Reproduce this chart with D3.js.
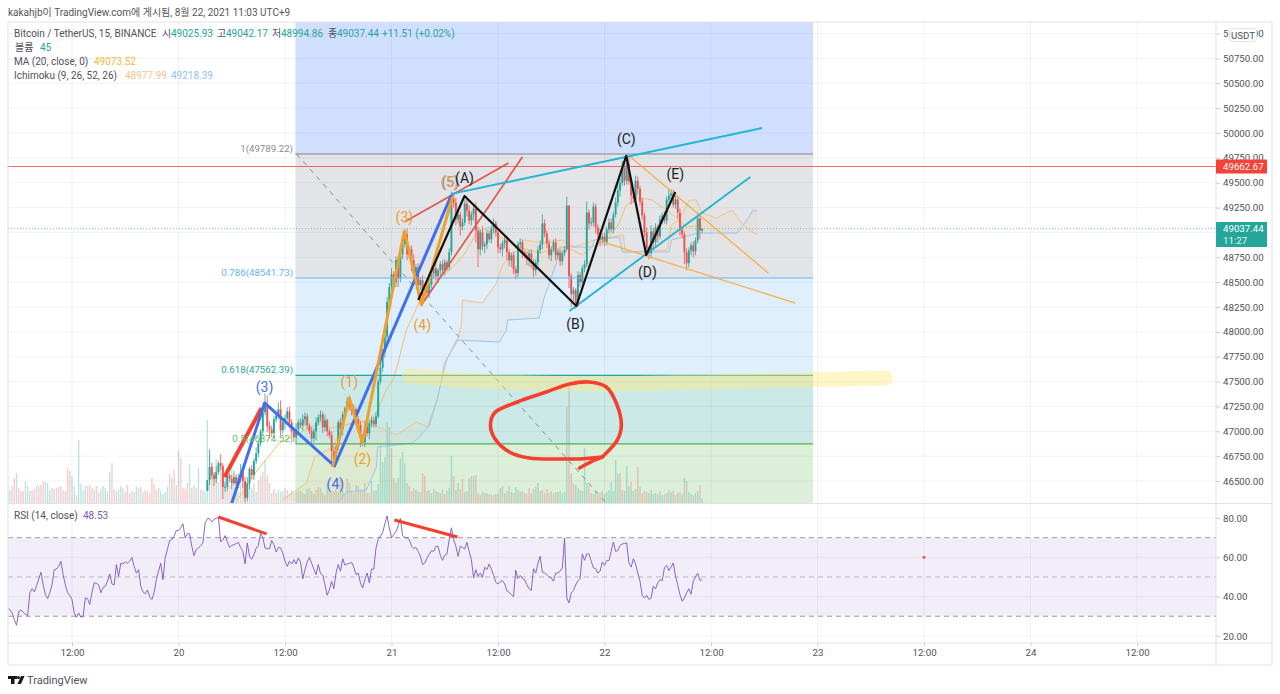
<!DOCTYPE html>
<html>
<head>
<meta charset="utf-8">
<script src="https://cdn.jsdelivr.net/npm/d3@7"></script>
<style>
  body { margin: 0; background: #fff; }
  svg { display: block; font-family: Roboto, "Noto Sans CJK KR", sans-serif; }
  .axis text { fill: #50535e; font-size: 9.7px; font-family: Roboto, sans-serif; }
  .axis line { stroke: #c8cad2; }
  .axis path { display: none; }
</style>
</head>
<body>
<svg width="1280" height="694"></svg>
<script>
// 15 minute bars, bar 0 is 19 Aug 04:45
const firstCandleBar = 90;
const closes = [
  46510,46640,46560,46520,46590,46680,46650,46440,46440,46560,
  46520,46480,46540,46470,46530,46590,46500,46330,46480,46620,
  46560,46700,46780,46880,47000,47190,47260,47050,47020,46980,
  47120,47160,47220,47010,47090,47130,47200,47090,47000,46940,
  47020,47090,47060,47120,47150,47060,47000,46930,47000,47090,
  47140,47170,47040,47110,47000,46960,46800,46720,46840,47090,
  47020,47170,47230,47300,47260,47200,47220,47120,47060,46940,
  46890,47050,46980,47080,47110,47070,47150,47500,47640,47800,
  47950,48300,48450,48580,48500,48720,48540,48780,48880,48980,
  48780,48830,48720,48590,48650,48470,48520,48420,48430,48390,
  48470,48590,48640,48560,48620,48680,48620,48700,48650,48800,
  49340,49300,49130,49180,49060,49100,49290,49220,49120,49180,
  49240,49020,48830,49000,48860,48880,48990,48930,49040,49090,
  49000,48850,48830,48890,48920,48800,48720,48770,48630,48590,
  48880,48900,48800,48770,48730,48790,48700,48620,48700,48820,
  48880,49090,48990,48890,48770,48830,48900,48770,48800,48710,
  48790,48830,49270,48560,48380,48420,48290,48570,48500,48640,
  48680,49200,49090,49100,49260,49050,48980,48930,48960,48900,
  49030,49100,49030,49180,49300,49420,49500,49650,49520,49690,
  49510,49370,49340,49520,49440,49310,49170,49000,48830,48790,
  49010,48900,49050,48960,49130,49170,49120,49330,49370,49390,
  49280,49330,49200,49030,48980,48800,48690,48820,48870,48810,
  48920,49140,49020,49037.44
];
const wickUp = [
  0,180,40,30,60,20,90,30,50,40,
  20,40,60,30,40,80,30,40,60,20,
  40,30,60,30,20,50,120,100,50,40,
  30,40,70,90,30,40,40,50,30,40,
  60,30,40,50,40,30,20,40,30,50,
  30,40,30,60,20,30,40,50,30,20,
  40,30,20,40,60,30,50,20,30,40,
  30,50,40,30,40,30,40,30,50,30,
  40,50,40,60,30,40,30,20,40,40,
  60,30,40,60,30,40,30,50,30,40,
  30,40,30,60,20,30,40,30,20,40,
  70,40,50,60,30,40,40,60,50,30,
  50,60,40,30,60,30,40,30,30,50,
  30,30,40,30,40,50,30,30,40,30,
  30,40,30,20,40,30,40,30,30,40,
  40,90,40,30,40,30,30,40,30,30,
  30,30,90,0,30,30,20,40,30,30,
  40,110,30,50,40,30,30,50,30,40,
  30,40,40,30,50,60,40,70,60,80,
  60,30,40,50,40,30,40,30,50,30,
  60,30,40,30,40,30,40,30,60,40,
  40,50,30,40,30,30,40,30,30,40,
  30,60,30,5
];
const wickDown = [
  0,50,40,70,40,30,40,120,50,40,
  30,60,30,40,40,50,70,90,30,60,
  40,50,30,40,30,50,30,60,90,40,
  50,30,40,50,40,70,30,60,40,50,
  70,40,30,50,60,40,30,50,40,90,
  30,40,60,40,50,30,120,60,50,30,
  40,60,30,30,50,40,30,50,60,100,
  40,50,30,60,40,30,30,20,30,40,
  60,50,40,70,60,50,90,40,50,30,
  60,40,110,60,70,150,50,100,60,40,
  50,30,60,40,70,50,30,50,40,30,
  30,50,60,40,90,40,30,60,40,50,
  60,120,180,60,40,70,50,30,40,50,
  40,60,40,70,50,80,60,70,50,60,
  40,50,60,30,60,70,60,70,50,40,
  30,50,40,50,40,60,30,50,40,50,
  40,30,20,120,130,70,60,40,50,30,
  40,30,60,30,40,60,40,70,50,40,
  30,40,30,40,30,40,60,30,50,40,
  30,90,40,30,60,40,40,50,70,60,
  40,70,40,60,30,40,30,40,30,50,
  30,40,60,60,40,120,70,40,50,60,
  40,30,90,25
];
// negative = down bar
const volumes = [
  190,130,-170,-250,300,-150,-120,-120,210,170,
  120,-130,-140,170,-170,-180,-220,210,200,130,
  -150,140,-150,-160,170,-130,-120,-350,-320,270,
  170,-80,630,190,130,170,-170,-180,-150,130,
  -170,-110,140,170,150,-120,310,-400,-140,120,
  -130,170,150,-110,-180,-100,120,-110,170,150,
  -160,110,-130,-120,-100,-250,-190,130,-150,120,
  90,110,160,-290,250,-330,-180,520,-450,-150,
  -140,-200,390,-150,170,-150,350,-130,130,110,
  830,480,-400,-300,440,210,-350,-230,260,-350,
  -180,350,160,130,-110,190,-230,-210,130,170,
  -150,200,110,-230,-270,-310,430,-280,-200,100,
  -140,-100,130,110,-120,150,-130,-100,130,100,
  -110,-120,120,100,-90,140,-150,120,90,-130,
  -160,150,-100,-80,190,-130,110,-120,-140,110,
  -230,130,-90,-240,200,-110,-100,180,-170,-130,
  130,-200,-100,-100,220,-120,130,190,580,410,
  460,810,760,-550,250,-200,250,450,510,400,
  200,-170,-120,-150,130,110,-110,-300,-270,120,
  -130,100,140,-120,110,-100,130,-90,-120,150,
  470,-270,130,200,-140,-240,110,-120,250,-270,
  270,-280,-100,-80,110,-100,100,-90,-80,-80,
  90,-90,150,-170,100,-120,170,-110,-100,160,
  130,-110,120,-100,-90,-150,-100,140,-160,200,
  120,-130,-100,-140,100,-120,-100,-110,110,120,
  100,110,960,-1180,-300,-200,180,150,130,-120,
  550,200,-170,-100,-90,120,-80,-100,-120,90,
  110,130,210,120,430,290,-300,-130,120,370,
  170,-210,120,140,-360,-160,-100,-120,110,-100,
  130,90,100,-90,120,80,-90,-100,130,110,
  -120,80,-100,-110,90,250,-220,110,90,-80,
  100,120,-180,45
];
const rsiValues = [
  33.9,33.4,31.7,28.3,25.4,32.5,33.2,32,31,30.3,
  41.9,44,42.4,45.3,49,52.4,46,41,39,42,
  46,53.7,54,55.4,58,51,46,42,40.7,38.5,
  31.7,29.5,31.7,29.5,30,39.3,39,36,42,47,
  46.8,46,42,44.7,45.3,47.8,51.5,46.4,46,56.3,
  50.3,57,56.6,57.6,57,58,60,55.4,52,53.7,
  45.3,42.4,41.4,43.4,40,38.5,42,48.6,53,57,
  48.6,59.7,64,68.5,69,70.7,73.6,73.6,75,77,
  69.8,72,72,65.6,60.8,64,64.7,66,67.3,77.5,
  79.7,79.7,78,79.3,79.8,80.3,67.8,69,71,68,
  65,66,66.4,67,67.6,65,63,56.6,67.3,60.5,
  59,61.4,64.7,66,72.4,70,64.7,64.4,64.4,68.5,
  66.4,62.7,65,64.7,62.2,58,55.4,58,56.6,58.8,
  56.6,59.7,57.6,49,53.7,57.6,60,57,54,51.2,
  56.3,51.7,51,46,40.7,43.4,47.8,44,52,56.3,
  53,59.3,56,56.6,56.8,57.5,55,51.2,52,47,
  44.4,48.6,52,47,54,54,64.7,69,70.7,72.5,
  77,81,75,70,71.5,73,76,79.7,71,70,
  70,69,65.8,64.4,65,63,60.5,56.3,57.1,59.6,
  61.5,63.4,63,65.6,65.6,61,58.5,61,61.7,69,
  75,69,65.6,60.5,65.6,65,64.2,67.6,63,58.8,
  49.5,53.7,50.3,52,49.7,55,53.7,56.6,54,50.8,
  47.3,46.4,47.8,48.1,46.5,43,42.2,41,40,53.4,
  49.2,50.7,49.2,48.6,46,44,43.2,54.2,52,57,
  60.5,52.4,52,51.2,50,49.5,47.8,52,52,53,
  54.6,69.8,39.3,36.8,41.9,43,46,48.1,49,61.7,
  58.5,61.7,61.7,58,54.6,54.2,52,52.9,57.6,55.9,
  58.3,58.3,63,67.8,63,63.4,66,66.8,67,67.3,
  57.1,55,59.3,56.6,52,47.8,40.7,39.3,40.7,38.5,
  39.3,45.3,43.9,47,48.6,48.1,54.6,56,53.2,55,
  57.1,50.3,46,41,37.6,39.3,41.9,44,41.2,47.8,
  50,52,48.3,48.53
];

const maBars = [102.7,112.6,118.9,122.5,141.4,146,151.8,164,166.7,170.7,174.3,179.7,188.7,197.8,205,211.3,217,221.6,230.6,239.6,251.8,259,263.5,271.2,275.7,278.8,284.7,290.5,296.9,301.4,305.9,310.8,313];
const maPrices = [46279,46611,46782,46882,47093,47033,47063,47114,47214,47415,47546,48019,48451,48592,48753,48994,49055,48954,48853,48793,48853,48773,48853,48954,49095,49276,49346,49326,49226,49145,49055,49065,49073.52];
const spanABars = [123.9,130.2,134.7,138.3,146.4,151.8,158.6,165.3,175.2,184.2,189.2,193.7,196.8,202.3,204.5,205,214,220.3,223,229.7,232.9,241.9,250,255.4,264.4,277.5,278.4,297.3,299,302.7,307.2,310.4,313,319.4,326.6,329.7,334.2,337.8];
const spanAPrices = [46309,46410,46480,46742,46842,47063,47114,47063,46963,47094,47043,47315,47687,47888,48069,48320,48290,48491,48672,48823,48924,48894,48924,48853,48924,48974,48803,48823,49075,49125,49326,49326,49195,49145,49226,49125,49024,48977.99];
const spanBBars = [148.6,152.7,161.7,166.2,166.7,182.4,185.6,190.1,193.7,197.8,202.3,221.6,224.8,225.2,239.6,241.9,247.3,248.7,263.5,264.4,275.7,277,298.2,299.1,311.7,328.8,334.2,335.6,337.8];
const spanBPrices = [46279,46390,46410,46641,46842,46882,46942,47063,47335,47717,47918,47898,48019,48119,48139,48350,48692,48853,48853,48924,48954,48803,48803,48924,48994,48994,49155,49218,49218.39];

// fib retracement
const fibStartBar = 129.7;
const fibEndBar = 363;
const fibLevels = [49789.22, 48541.73, 47562.39, 46874.52];
const fibNames = ['1(49789.22)', '0.786(48541.73)', '0.618(47562.39)', '0.5(46874.52)'];
const fibDiagonalBars = [130.2, 269.8];
const fibDiagonalPrices = [49789, 46279];

// hand drawn lines
const redThickBars = [97.7, 114.4];
const redThickPrices = [46540, 47234];
const blueWaveBars = [100, 115.8, 147.3, 200];
const blueWavePrices = [46209, 47285, 46651, 49376];
const orangeWaveBars = [146.4, 154, 159.9, 178.8, 186.5, 200.5];
const orangeWavePrices = [46641, 47335, 46882, 49014, 48270, 49356];
const channelUpperBars = [178.8, 225.7];
const channelUpperPrices = [49105, 49698];
const channelLowerBars = [186.5, 232];
const channelLowerPrices = [48270, 49759];
const cyanUpperBars = [200, 340.1];
const cyanUpperPrices = [49387, 50050];
const cyanLowerBars = [253.2, 334.7];
const cyanLowerPrices = [48210, 49558];
const blackWaveBars = [185.1, 205.9, 256.3, 278.8, 287.8, 300.9];
const blackWavePrices = [48320, 49366, 48260, 49769, 48773, 49407];
const fanUpperBars = [280.2, 342.8];
const fanUpperPrices = [49769, 48592];
const fanLowerBars = [268, 355];
const fanLowerPrices = [48904, 48290];
const circleBars = [268,257.7,251.8,235.1,226.1,219.4,217.6,219.4,229.7,242.8,253.2,262.2,269.8,274.3,276.6,274.8,268];
const circlePrices = [46742,46722,46722,46731,46792,46933,47063,47184,47295,47395,47476,47496,47446,47285,47063,46913,46742];
const hookBars = [257.7, 263.5, 268];
const hookPrices = [46631, 46701, 46742];
const highlightBars = [181, 212.6, 266.7, 311.7, 395.5];
const highlightPrices = [47556, 47506, 47476, 47496, 47536];
const rsiLine1Bars = [95, 116.7];
const rsiLine1Values = [80.5, 71.9];
const rsiLine2Bars = [174.3, 202.7];
const rsiLine2Values = [79, 70.3];

const waveTexts = ['(3)','(4)','(1)','(2)','(3)','(4)','(5)','(5)','(A)','(B)','(C)','(D)','(E)'];
const waveBars = [115.8,147.7,154,159.9,178.8,186.9,199.5,199.2,205.9,255.9,278.8,288.3,300.9];
const wavePrices = [47446,46470,47496,46721,49155,48069,49507,49507,49547,48079,49940,48602,49588];
const waveGroups = ['blue','blue','orange','orange','orange','orange','blue','orange','black','black','black','black','black'];

const priceTicks = d3.range(46500, 51001, 250);
const rsiTicks = [20, 40, 60, 80];
const timeTicks = [29, 77, 125, 173, 221, 269, 317, 365, 413, 461, 509];
const timeLabels = ['12:00','20','12:00','21','12:00','22','12:00','23','12:00','24','12:00'];

const lastPrice = 49037.44;
const alertPrice = 49662.67;

const svg = d3.select('svg');
const up = '#26a69a', down = '#ef5350';

const x = d3.scaleLinear().domain([0, 545]).range([7.66, 1216.9]);
const y = d3.scaleLinear().domain([46279, 51116]).range([503, 22]);
const yRsi = d3.scaleLinear().domain([16.4, 86.6]).range([643, 505]);
const yVol = d3.scaleLinear().domain([0, 1000]).range([503, 403]);

const defs = svg.append('defs');
defs.append('clipPath').attr('id', 'pricePane').append('rect')
  .attr('x', 8).attr('y', 22).attr('width', 1208).attr('height', 481);
defs.append('clipPath').attr('id', 'rsiPane').append('rect')
  .attr('x', 8).attr('y', 505).attr('width', 1208).attr('height', 138);

const zip = (a, b) => a.map((d, i) => [d, b[i]]);
const priceLine = d3.line().x(d => x(d[0])).y(d => y(d[1]));
const rsiLine = d3.line().x(d => x(d[0])).y(d => yRsi(d[1]));

const price = svg.append('g').attr('clip-path', 'url(#pricePane)');
const rsi = svg.append('g').attr('clip-path', 'url(#rsiPane)');

// fib bands
const fibEdges = [y.domain()[1], ...fibLevels, y.domain()[0]];
const fibColors = ['#d1dfff', '#e3e4e7', '#dfeffc', '#cbe9e6', '#dcefd9'];
price.selectAll('rect.band').data(fibColors).enter().append('rect')
  .attr('class', 'band')
  .attr('x', x(fibStartBar))
  .attr('width', x(fibEndBar) - x(fibStartBar))
  .attr('y', (d, i) => y(fibEdges[i]))
  .attr('height', (d, i) => y(fibEdges[i + 1]) - y(fibEdges[i]))
  .attr('fill', d => d);

// grid
const gridColor = 'rgba(120,123,134,0.09)';
price.selectAll('line.gy').data(priceTicks).enter().append('line')
  .attr('x1', 8).attr('x2', 1216).attr('y1', d => y(d)).attr('y2', d => y(d)).attr('stroke', gridColor);
price.selectAll('line.gx').data(timeTicks).enter().append('line')
  .attr('y1', 22).attr('y2', 503).attr('x1', d => x(d)).attr('x2', d => x(d)).attr('stroke', gridColor);

// volume
price.selectAll('rect.vol').data(volumes).enter().append('rect')
  .attr('x', (d, i) => x(i) - 0.7)
  .attr('width', 1.4)
  .attr('y', d => yVol(Math.abs(d)))
  .attr('height', d => 503 - yVol(Math.abs(d)))
  .attr('fill', d => d < 0 ? down : up)
  .attr('opacity', 0.3);

// ichimoku cloud
const spanA = zip(spanABars, spanAPrices);
const spanB = zip(spanBBars, spanBPrices);
price.append('path')
  .attr('d', priceLine(spanA.concat(spanB.slice().reverse())) + 'Z')
  .attr('fill', '#f5b060').attr('opacity', 0.08);
price.append('path').attr('d', priceLine(spanA)).attr('fill', 'none')
  .attr('stroke', '#f2c48a').attr('stroke-width', 1);
price.append('path').attr('d', priceLine(spanB)).attr('fill', 'none')
  .attr('stroke', '#9fc4ee').attr('stroke-width', 1);

// MA
price.append('path').attr('d', priceLine(zip(maBars, maPrices))).attr('fill', 'none')
  .attr('stroke', '#f3c26b').attr('stroke-width', 1);

// price lines
price.append('line').attr('x1', 8).attr('x2', 1216).attr('y1', y(lastPrice)).attr('y2', y(lastPrice))
  .attr('stroke', up).attr('stroke-dasharray', '1 2').attr('opacity', 0.6);

// candles
const candles = closes.map((c, i) => {
  const open = i === 0 ? 46400 : closes[i - 1];
  return {
    bar: firstCandleBar + i, open, close: c,
    high: Math.max(open, c) + wickUp[i],
    low: Math.min(open, c) - wickDown[i]
  };
});
price.selectAll('line.wick').data(candles).enter().append('line')
  .attr('x1', d => x(d.bar)).attr('x2', d => x(d.bar))
  .attr('y1', d => y(d.high)).attr('y2', d => y(d.low))
  .attr('stroke', d => d.close >= d.open ? up : down).attr('stroke-width', 0.8);
price.selectAll('rect.body').data(candles).enter().append('rect')
  .attr('x', d => x(d.bar) - 0.95).attr('width', 1.9)
  .attr('y', d => y(Math.max(d.open, d.close)))
  .attr('height', d => Math.max(0.8, Math.abs(y(d.open) - y(d.close))))
  .attr('fill', d => d.close >= d.open ? up : down);

// fib lines
const fibLineColors = ['#a0a1ab', '#64b5f6', '#26a69a', '#4caf50'];
price.selectAll('line.fib').data(fibLevels).enter().append('line')
  .attr('x1', x(fibStartBar)).attr('x2', x(fibEndBar))
  .attr('y1', d => y(d)).attr('y2', d => y(d))
  .attr('stroke', (d, i) => fibLineColors[i])
  .attr('stroke-width', (d, i) => i === 0 ? 1.6 : 1.2);
price.append('path').attr('d', priceLine(zip(fibDiagonalBars, fibDiagonalPrices))).attr('fill', 'none')
  .attr('stroke', '#8a8c96').attr('stroke-dasharray', '5 5');

price.append('line').attr('x1', 8).attr('x2', 1216).attr('y1', y(alertPrice)).attr('y2', y(alertPrice))
  .attr('stroke', '#ef5350').attr('stroke-width', 1.1).attr('opacity', 0.85);

// highlight marker
price.append('path')
  .attr('d', priceLine.curve(d3.curveMonotoneX)(zip(highlightBars, highlightPrices)))
  .attr('fill', 'none').attr('stroke', '#ffe97a').attr('stroke-opacity', 0.42)
  .attr('stroke-width', 15).attr('stroke-linecap', 'round');
priceLine.curve(d3.curveLinear);

// drawings
const drawings = [
  [channelUpperBars, channelUpperPrices, '#e2574c', 1.7],
  [channelLowerBars, channelLowerPrices, '#e2574c', 1.7],
  [fanUpperBars, fanUpperPrices, '#f5b04c', 1.3],
  [fanLowerBars, fanLowerPrices, '#f5b04c', 1.3],
  [cyanUpperBars, cyanUpperPrices, '#23b5d3', 1.9],
  [cyanLowerBars, cyanLowerPrices, '#23b5d3', 1.9],
  [redThickBars, redThickPrices, '#f4402f', 4],
  [blueWaveBars, blueWavePrices, '#3f6fee', 3],
  [orangeWaveBars, orangeWavePrices, '#eda02c', 3],
  [blackWaveBars, blackWavePrices, '#111', 2.2]
];
price.selectAll('path.draw').data(drawings).enter().append('path')
  .attr('d', d => priceLine(zip(d[0], d[1])))
  .attr('fill', 'none')
  .attr('stroke', d => d[2])
  .attr('stroke-width', d => d[3])
  .attr('stroke-linejoin', 'round');

// red circle
const circleLine = d3.line().curve(d3.curveCatmullRom).x(d => x(d[0])).y(d => y(d[1]));
[[circleBars, circlePrices], [hookBars, hookPrices]].forEach(c => {
  price.append('path').attr('d', circleLine(zip(c[0], c[1])))
    .attr('fill', 'none').attr('stroke', '#f4402f').attr('stroke-width', 3.6)
    .attr('stroke-linecap', 'round');
});

// wave labels
const waveColor = { blue: '#3f6fee', orange: '#eda02c', black: '#222' };
svg.selectAll('text.wave').data(waveTexts).enter().append('text')
  .attr('x', (d, i) => x(waveBars[i]))
  .attr('y', (d, i) => y(wavePrices[i]))
  .attr('dy', '0.35em')
  .attr('text-anchor', 'middle')
  .attr('font-size', 14)
  .attr('fill', (d, i) => waveColor[waveGroups[i]])
  .text(d => d);

// fib labels
const fibTextColors = ['#8a8c96', '#64b5f6', '#26a69a', '#66bb6a'];
svg.selectAll('text.fibl').data(fibNames).enter().append('text')
  .attr('x', 293)
  .attr('y', (d, i) => y(fibLevels[i]) - 3)
  .attr('dy', '0.1em')
  .attr('text-anchor', 'end')
  .attr('font-size', 9.7)
  .attr('fill', (d, i) => fibTextColors[i])
  .text(d => d);

// rsi pane
rsi.append('rect').attr('x', 8).attr('width', 1208)
  .attr('y', yRsi(70)).attr('height', yRsi(30) - yRsi(70))
  .attr('fill', '#7e57c2').attr('opacity', 0.1);
rsi.selectAll('line.gy').data(rsiTicks).enter().append('line')
  .attr('x1', 8).attr('x2', 1216).attr('y1', d => yRsi(d)).attr('y2', d => yRsi(d)).attr('stroke', gridColor);
rsi.selectAll('line.gx').data(timeTicks).enter().append('line')
  .attr('y1', 505).attr('y2', 643).attr('x1', d => x(d)).attr('x2', d => x(d)).attr('stroke', gridColor);
rsi.selectAll('line.lvl').data([70, 50, 30]).enter().append('line')
  .attr('x1', 8).attr('x2', 1216).attr('y1', d => yRsi(d)).attr('y2', d => yRsi(d))
  .attr('stroke', '#787b86').attr('stroke-dasharray', '5 4').attr('stroke-width', 0.9)
  .attr('opacity', d => d === 50 ? 0.5 : 0.8);
const rsiPath = d3.line().x((d, i) => x(i)).y(d => yRsi(d));
rsi.append('path').attr('d', rsiPath(rsiValues)).attr('fill', 'none')
  .attr('stroke', '#7e57c2').attr('stroke-width', 1).attr('opacity', 0.9);
[[rsiLine1Bars, rsiLine1Values], [rsiLine2Bars, rsiLine2Values]].forEach(l => {
  rsi.append('path').attr('d', rsiLine(zip(l[0], l[1])))
    .attr('stroke', '#f4402f').attr('stroke-width', 3).attr('fill', 'none');
});
rsi.append('circle').attr('cx', x(413)).attr('cy', yRsi(60)).attr('r', 1.5).attr('fill', '#ef5350');

// axes, the 49000 label sits fully under the last price tag
svg.append('g').attr('class', 'axis').attr('transform', 'translate(1216,0)')
  .call(d3.axisRight(y).tickValues(priceTicks).tickSize(4).tickPadding(3)
    .tickFormat(d => d === 49000 ? '' : d3.format('.2f')(d)));
svg.append('g').attr('class', 'axis').attr('transform', 'translate(1216,0)')
  .call(d3.axisRight(yRsi).tickValues(rsiTicks).tickSize(4).tickPadding(3).tickFormat(d3.format('.2f')));
svg.append('g').attr('class', 'axis').attr('transform', 'translate(0,643)')
  .call(d3.axisBottom(x).tickValues(timeTicks).tickSize(3).tickPadding(3).tickFormat((d, i) => timeLabels[i]));

// frame
const frame = '#e0e3eb';
[[8, 22, 1272, 22], [8, 22, 8, 665], [1272, 22, 1272, 665], [8, 665, 1272, 665],
 [1216, 22, 1216, 665], [8, 503.5, 1272, 503.5], [8, 643, 1272, 643]].forEach(l => {
  svg.append('line').attr('x1', l[0]).attr('y1', l[1]).attr('x2', l[2]).attr('y2', l[3]).attr('stroke', frame);
});

// price tags
svg.append('rect').attr('x', 1229.5).attr('y', 28.5).attr('width', 27).attr('height', 13).attr('rx', 3)
  .attr('fill', '#fff').attr('stroke', frame);
svg.append('text').attr('x', 1243).attr('y', 38.5).attr('text-anchor', 'middle').attr('font-size', 9.7)
  .attr('fill', '#50535e').text('USDT');
svg.append('rect').attr('x', 1216).attr('y', y(alertPrice) - 7).attr('width', 51).attr('height', 14).attr('fill', '#f44336');
svg.append('text').attr('x', 1223).attr('y', y(alertPrice) + 3.5).attr('font-size', 9.7).attr('fill', '#fff').text(d3.format('.2f')(alertPrice));
svg.append('rect').attr('x', 1216).attr('y', 222).attr('width', 51).attr('height', 25).attr('fill', up);
svg.append('text').attr('x', 1223).attr('y', 232).attr('font-size', 9.7).attr('fill', '#fff').text(d3.format('.2f')(lastPrice));
svg.append('text').attr('x', 1223).attr('y', 244).attr('font-size', 9.7).attr('fill', '#e4f5f3').text('11:27');

// header and legend
svg.append('text').attr('x', 8).attr('y', 16).attr('font-size', 10).attr('fill', '#555')
  .text('kakahjb이 TradingView.com에 게시됨, 8월 22, 2021 11:03 UTC+9');

const legend = svg.append('g').attr('font-size', 10);
const legendRow = (rowY, parts) => {
  const t = legend.append('text').attr('y', rowY);
  parts.forEach(p => {
    t.append('tspan').attr('x', p[2]).attr('fill', p[1]).text(p[0]);
  });
};
legendRow(37, [
  ['Bitcoin / TetherUS, 15, BINANCE', '#50535e', 14],
  ['시', '#50535e', 162], ['49025.93', up, 171],
  ['고', '#50535e', 217], ['49042.17', up, 226],
  ['저', '#50535e', 272], ['48994.86', up, 281],
  ['종', '#50535e', 328], ['49037.44', up, 337],
  ['+11.51 (+0.02%)', up, 382]
]);
legendRow(51, [['볼륨', '#50535e', 15], ['45', up, 40]]);
legendRow(65, [['MA (20, close, 0)', '#50535e', 14], ['49073.52', '#f5b93f', 94]]);
legendRow(79, [['Ichimoku (9, 26, 52, 26)', '#50535e', 14], ['48977.99', '#f7c48a', 125], ['49218.39', '#90bff9', 171]]);
legendRow(519, [['RSI (14, close)', '#50535e', 14], ['48.53', '#7e57c2', 83]]);

// footer
const logo = svg.append('g').attr('fill', '#131722');
logo.append('rect').attr('x', 8).attr('y', 676).attr('width', 9).attr('height', 3);
logo.append('rect').attr('x', 11).attr('y', 679).attr('width', 3.5).attr('height', 5);
logo.append('circle').attr('cx', 18.5).attr('cy', 677.5).attr('r', 1.5);
logo.append('path').attr('d', 'M21 676h3.5l-3.5 8h-3.5z');
svg.append('text').attr('x', 27).attr('y', 684).attr('font-size', 11).attr('fill', '#50535e').text('TradingView');
</script>
</body>
</html>
